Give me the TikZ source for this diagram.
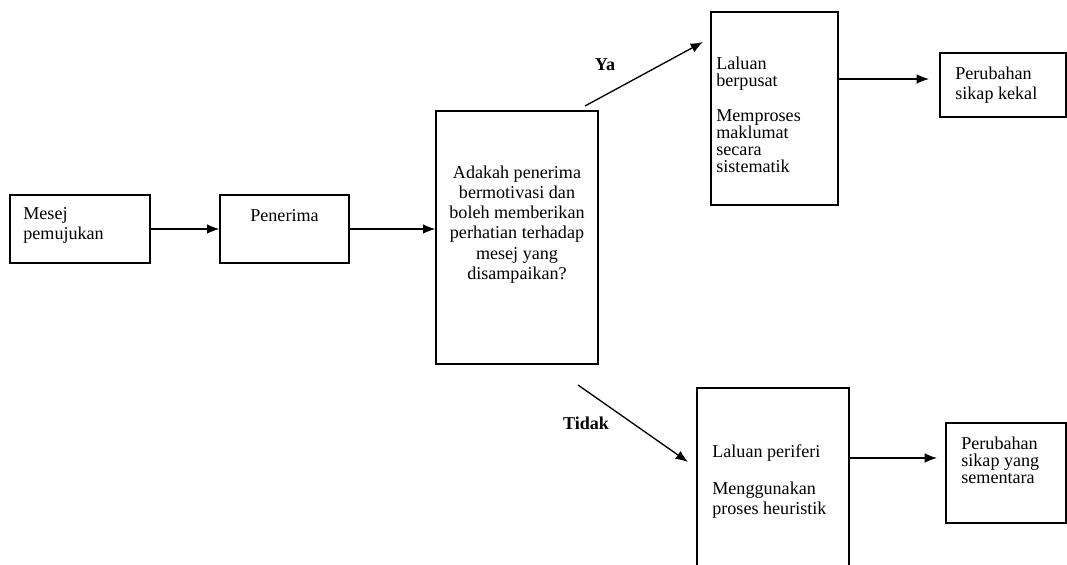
\documentclass[tikz,border=0pt]{standalone}
\usepackage{fontspec}
\setmainfont{Liberation Serif}
\usetikzlibrary{arrows.meta,positioning,fit}

\begin{document}
\begin{tikzpicture}[
  x=0.02cm,y=-0.02cm,
  box/.style={draw,line width=0.8pt,inner sep=0pt},
  txt/.style={font=\fontsize{10.3}{11.4}\selectfont,inner sep=0pt,align=left,anchor=north west},
  tighttxt/.style={txt,font=\fontsize{10.3}{9.7}\selectfont},
  ctxt/.style={font=\fontsize{10.3}{11.4}\selectfont,inner sep=0pt,align=center,anchor=north},
  lbl/.style={font=\bfseries\fontsize{10.3}{12}\selectfont,inner sep=0pt},
  arrow/.style={-{Latex[length=7pt,width=5.5pt]},line width=0.75pt}
]
\useasboundingbox (0,0) rectangle (1067,564);
\clip (0,0) rectangle (1067,564);

% boxes
\node[box,fit={(10,195) (150,263)}] (mesej) {};
\node[box,fit={(220,195) (349,263)}] (penerima) {};
\node[box,fit={(436,111) (598,364)}] (soalan) {};
\node[box,fit={(711,12) (838,205)}] (berpusat) {};
\node[box,fit={(940,53) (1066,117)}] (kekal) {};
\node[box,fit={(697,388) (849,585)}] (periferi) {};
\node[box,fit={(946,423) (1066,523)}] (sementara) {};

% texts
\node[txt] (tmesej) at (23,207) {Mesej\\pemujukan};
\node[ctxt] (tpenerima) at (284.5,209) {Penerima};
\node[ctxt] (tsoalan) at (517,166) {Adakah penerima\\bermotivasi dan\\boleh memberikan\\perhatian terhadap\\mesej yang\\disampaikan?};
\node[tighttxt] (tberpusat) at (716,57) {Laluan\\berpusat\\[9.7pt]Memproses\\maklumat\\secara\\sistematik};
\node[txt] (tkekal) at (955,67) {Perubahan\\sikap kekal};
\node[txt] (tperiferi) at (712,444) {Laluan periferi\\[10pt]Menggunakan\\proses heuristik};
\node[tighttxt] (tsementara) at (961,437) {Perubahan\\sikap yang\\sementara};

\node[lbl] (ya) at (605,65) {Ya};
\node[lbl] (tidak) at (586,423) {Tidak};

% free arrow ends
\coordinate (yaS) at (585,106);
\coordinate (yaE) at (703,42);
\coordinate (tidakS) at (578,385);
\coordinate (tidakE) at (688,462);
\coordinate (kekalE) at (929,79);
\coordinate (sementaraE) at (937,458);

% connectors
\draw[arrow] (mesej) -- (penerima);
\draw[arrow] (penerima.east) -- (penerima.east -| soalan.west);
\draw[arrow] (yaS) -- (yaE);
\draw[arrow] (tidakS) -- (tidakE);
\draw[arrow] (berpusat.east |- kekalE) -- (kekalE);
\draw[arrow] (periferi.east |- sementaraE) -- (sementaraE);
\end{tikzpicture}
\end{document}
